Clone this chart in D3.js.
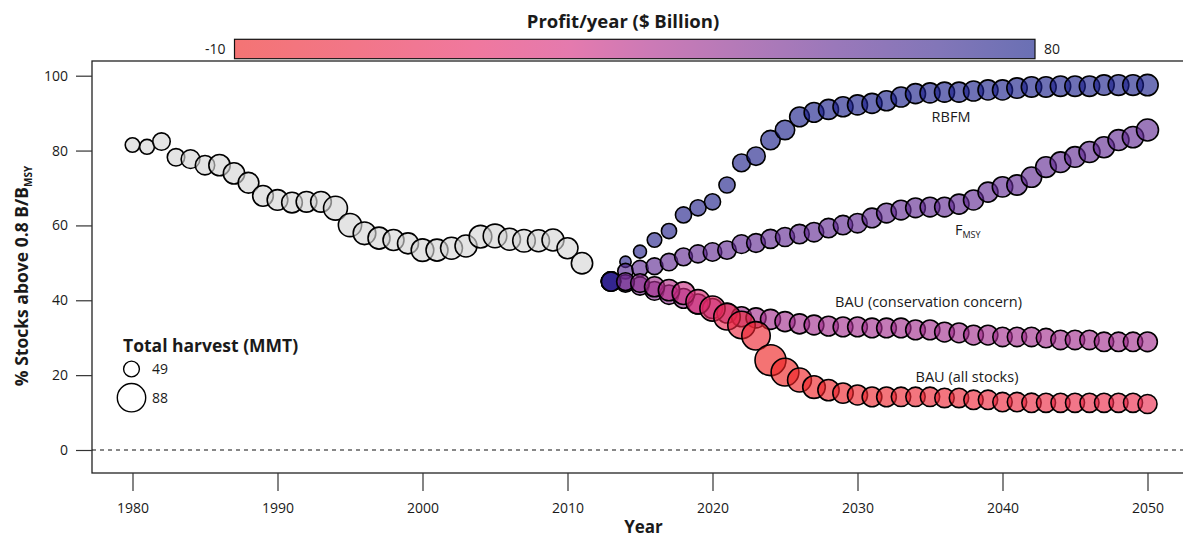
<!DOCTYPE html>
<html><head><meta charset="utf-8">
<script src="https://cdn.jsdelivr.net/npm/d3@7"></script>
<style>
body{margin:0;background:#fff;}
svg text{font-family:"Open Sans",Lato,sans-serif;fill:#1a1a1a;}
</style></head><body>
<svg id="c" width="1183" height="539"></svg>
<script>
// ---------------- DATA ----------------
const histYears = [1980,1981,1982,1983,1984,1985,1986,1987,1988,1989,1990,1991,1992,1993,1994,1995,1996,1997,1998,1999,2000,2001,2002,2003,2004,2005,2006,2007,2008,2009,2010,2011];
const histPct = [81.5,81.0,82.4,78.2,77.7,76.1,76.1,73.9,71.4,67.9,66.8,66.1,66.3,66.3,64.6,60.1,57.9,56.6,56.1,55.2,53.4,53.4,53.9,54.5,57.0,57.2,56.3,55.9,55.9,56.1,53.9,49.9];
const histHarvest = [45,46,54,54,58,60,66,66,64,64,64,64,64,64,74,72,70,68,65,65,70,68,68,68,70,73,68,70,68,68,65,66];

const projYears = [2013,2014,2015,2016,2017,2018,2019,2020,2021,2022,2023,2024,2025,2026,2027,2028,2029,2030,2031,2032,2033,2034,2035,2036,2037,2038,2039,2040,2041,2042,2043,2044,2045,2046,2047,2048,2049,2050];

const rbfmPct = [45.0,50.3,53.0,56.1,58.5,62.8,64.7,66.3,70.8,76.7,78.5,82.8,85.5,89.0,90.2,91.0,91.7,92.2,92.6,93.3,94.3,95.2,95.4,95.6,95.6,95.9,96.2,96.2,96.7,97.0,97.0,97.2,97.2,97.2,97.5,97.5,97.5,97.5];
const rbfmHarvest = [60,35,40,45,47,50,50,50,50,55,57,60,60,61,61,62,62,62,62,62,62,62,62,62,62,62,62,62,63,63,63,63,63,63,63,64,64,66];
const rbfmProfit = [72,74,75,75,76,76,76,77,77,77,77,78,78,78,78,78,78,78,78,78,78,78,78,78,78,78,78,78,78,78,78,78,78,78,78,78,78,78];

const fmsyPct = [45.0,47.8,48.5,49.1,50.2,51.6,52.4,52.9,53.4,55.0,55.3,56.4,56.9,57.7,58.2,59.3,60.1,60.6,62.0,63.3,64.1,64.7,64.9,64.9,65.7,66.8,68.9,70.3,70.8,72.9,75.6,76.9,78.3,79.6,80.9,82.8,83.6,85.5];
const fmsyHarvest = [60,48,50,52,54,55,56,57,57,58,58,59,59,60,60,60,60,60,61,61,61,61,61,61,62,62,62,63,63,63,64,64,64,65,65,65,66,68];
const fmsyProfit = [72,60,58,58,57,57,57,57,57,57,57,57,57,57,57,57,57,57,57,57,57,57,57,57,57,57,57,57,57,57,57,57,57,57,57,57,57,57];

const bauCcPct = [45.0,44.5,43.8,42.5,41.5,40.5,39.0,37.8,36.6,35.6,35.3,34.9,34.3,33.7,33.4,33.1,32.9,32.9,32.6,32.6,32.6,32.1,32.1,31.5,31.3,30.7,30.7,30.2,30.2,30.2,29.9,29.4,29.4,29.4,28.9,28.9,28.9,28.9];
const bauCcHarvest = [60,54,56,58,60,61,62,62,62,62,62,62,62,62,61,61,61,61,61,61,61,61,61,61,61,61,61,60,60,60,60,60,60,60,60,60,60,61];
const bauCcProfit = [72,55,50,47,45,43,42,41,40,40,40,40,40,40,40,40,40,40,40,40,40,40,40,40,40,40,40,40,40,40,40,40,40,40,40,40,40,40];

const bauAllPct = [45.0,45.0,44.6,43.6,42.7,41.9,39.6,37.8,35.6,33.4,30.5,24.0,20.8,18.7,16.8,16.0,15.2,14.7,14.2,14.2,14.2,14.2,14.2,13.9,13.9,13.4,13.4,12.8,12.8,12.6,12.6,12.6,12.6,12.6,12.6,12.6,12.6,12.3];
const bauAllHarvest = [60,55,58,62,66,70,75,78,82,85,88,96,86,74,70,66,63,62,61,61,60,60,60,60,60,60,60,60,60,60,59,59,59,59,59,59,59,59];
const bauAllProfit = [72,52,46,40,35,30,24,17,9,2,-4,-10,-10,-9,-9,-8,-7,-6,-5,-5,-4,-3,-3,-2,-2,-1,0,0,1,2,2,3,4,4,5,6,6,7];

const yTicks = [0,20,40,60,80,100];
const xTicks = [1980,1990,2000,2010,2020,2030,2040,2050];
const profitDomain = [-10, 80];
const legendHarvest = [49, 88];

// ---------------- CHART ----------------
const svg = d3.select('#c');
const L = 92, R = 1195, T = 61, B = 473;
const x = d3.scaleLinear().domain([1980, 2050]).range([132.5, 1147.5]);
const y = d3.scaleLinear().domain([0, 100]).range([450, 75.7]);
const r = d3.scaleLinear().domain([0, 88]).range([0, 14.2]);

const A = 0.63;
const dispStops = ['#f47474','#f27688','#f0789e','#e47aae','#cc7ab6','#b67ab8','#9a78ba','#8276b8','#6a70b4'];
const stopPos = [0,0.15,0.3,0.42,0.52,0.62,0.75,0.88,1];
const tScale = d3.scaleLinear().domain(profitDomain).range([0,1]).clamp(true);
const dispScale = d3.scaleLinear().domain(stopPos).range(dispStops).interpolate(d3.interpolateRgb);
function baseColor(c){
  const k = d3.rgb(c);
  const f = v => Math.max(0, Math.min(255, (v - (1-A)*255)/A));
  return d3.rgb(f(k.r), f(k.g), f(k.b)).formatHex();
}
const profitColor = p => baseColor(dispScale(tScale(p)));

// frame
svg.append('rect').attr('x', L).attr('y', T).attr('width', R-L).attr('height', B-T)
  .attr('fill','none').attr('stroke','#222').attr('stroke-width',1.3);

// zero dashed line
svg.append('line').attr('x1', L).attr('x2', R).attr('y1', y(0)).attr('y2', y(0))
  .attr('stroke','#111').attr('stroke-width',1).attr('stroke-dasharray','4,4');

// axes
const yAxis = d3.axisLeft(y).tickValues(yTicks).tickSize(16).tickPadding(8);
const gy = svg.append('g').attr('transform', `translate(${L},0)`).call(yAxis);
gy.select('.domain').remove();
gy.selectAll('line').attr('stroke','#333').attr('stroke-width',1.2);
gy.selectAll('text').attr('font-size',14).style('font-family','"Open Sans"').attr('fill','#1a1a1a');

const xAxis = d3.axisBottom(x).tickValues(xTicks).tickFormat(d3.format('d')).tickSize(18).tickPadding(12);
const gx = svg.append('g').attr('transform', `translate(0,${B})`).call(xAxis);
gx.select('.domain').remove();
gx.selectAll('line').attr('stroke','#333').attr('stroke-width',1.2);
gx.selectAll('text').attr('font-size',14).style('font-family','"Open Sans"').attr('fill','#1a1a1a');

// axis titles
svg.append('text').attr('x', 643.5).attr('y', 533).attr('text-anchor','middle')
  .attr('font-size',17).attr('font-weight','bold').text('Year');
const yt = svg.append('text').attr('transform','translate(28,276) rotate(-90)').attr('text-anchor','middle')
  .attr('font-size',17.5).attr('font-weight','bold');
yt.append('tspan').text('% Stocks above 0.8 B/B');
yt.append('tspan').attr('font-size',10).attr('dy',4).text('MSY');

// bubbles
function drawSeries(years, pct, harv, fillFn){
  const data = years.map((yr,i)=>({yr, v:pct[i], h:harv[i], i}));
  svg.append('g').selectAll('circle').data(data).join('circle')
    .attr('cx', d=>x(d.yr)).attr('cy', d=>y(d.v)).attr('r', d=>r(d.h))
    .attr('fill', d=>fillFn(d.i)).attr('fill-opacity', A)
    .attr('stroke','#000').attr('stroke-width',1.6);
}
drawSeries(histYears, histPct, histHarvest, ()=>baseColor('#e4e4e4'));
drawSeries(projYears, rbfmPct, rbfmHarvest, i=>profitColor(rbfmProfit[i]));
drawSeries(projYears, fmsyPct, fmsyHarvest, i=>profitColor(fmsyProfit[i]));
drawSeries(projYears, bauCcPct, bauCcHarvest, i=>profitColor(bauCcProfit[i]));
drawSeries(projYears, bauAllPct, bauAllHarvest, i=>profitColor(bauAllProfit[i]));

// series labels
const lab = (t, xx, yy) => svg.append('text').attr('x',xx).attr('y',yy).attr('text-anchor','middle')
  .attr('font-size',14.5).attr('fill','#222').text(t);
lab('RBFM', 951, 122);
lab('BAU (conservation concern)', 928.5, 307);
lab('BAU (all stocks)', 967, 382);
const fl = svg.append('text').attr('x',955).attr('y',235).attr('font-size',14.5).attr('fill','#222');
fl.append('tspan').text('F');
fl.append('tspan').attr('font-size',9).attr('dy',3).text('MSY');

// size legend
svg.append('text').attr('x',123).attr('y',352).attr('font-size',17.5).attr('font-weight','bold').text('Total harvest (MMT)');
const legY = [369, 397.7];
legendHarvest.forEach((h,i)=>{
  svg.append('circle').attr('cx',131.5).attr('cy',legY[i]).attr('r',r(h))
    .attr('fill','#fff').attr('stroke','#000').attr('stroke-width',1.4);
  svg.append('text').attr('x',152).attr('y',legY[i]).attr('dy','0.35em').attr('font-size',14).text(h);
});

// colour bar
const defs = svg.append('defs');
const grad = defs.append('linearGradient').attr('id','pg').attr('x1','0%').attr('x2','100%');
stopPos.forEach((s,i)=>grad.append('stop').attr('offset', (s*100)+'%').attr('stop-color', dispStops[i]));
const cbX0 = 234.5, cbX1 = 1035;
svg.append('rect').attr('x',cbX0).attr('y',39.3).attr('width',cbX1-cbX0).attr('height',19.4)
  .attr('fill','url(#pg)').attr('stroke','#111').attr('stroke-width',1.2);
svg.append('text').attr('x',cbX0-9).attr('y',49).attr('dy','0.35em').attr('text-anchor','end').attr('font-size',14).text(profitDomain[0]);
svg.append('text').attr('x',cbX1+9).attr('y',49).attr('dy','0.35em').attr('text-anchor','start').attr('font-size',14).text(profitDomain[1]);
svg.append('text').attr('x',623).attr('y',28).attr('text-anchor','middle').attr('font-size',18.5).attr('font-weight','bold').text('Profit/year ($ Billion)');
</script>
</body></html>
